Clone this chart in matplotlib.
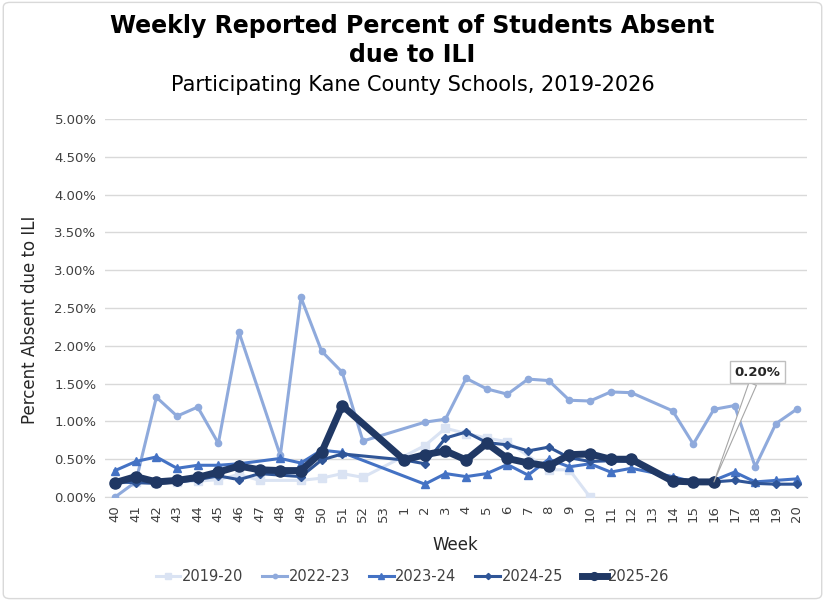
import matplotlib
matplotlib.use("Agg")
import matplotlib.pyplot as plt
import numpy as np
from matplotlib.patches import FancyBboxPatch

plt.rcParams['font.family'] = ['DejaVu Sans']

weeks = [40, 41, 42, 43, 44, 45, 46, 47, 48, 49, 50, 51, 52, 53,
         1, 2, 3, 4, 5, 6, 7, 8, 9, 10, 11, 12, 13, 14, 15, 16, 17, 18, 19, 20]
N = None
s2019_20 = [0.18, 0.20, 0.19, 0.20, 0.21, 0.23, 0.30, 0.22, N, 0.22, 0.25, 0.31, 0.26, N,
            N, 0.68, 0.91, 0.84, 0.78, 0.73, N, 0.36, 0.36, 0.00, N, N, N, N, N, N, N, N, N, N]
s2022_23 = [0.00, 0.20, 1.32, 1.07, 1.19, 0.71, 2.18, N, 0.55, 2.64, 1.93, 1.65, 0.74, N,
            N, 0.99, 1.03, 1.57, 1.43, 1.36, 1.56, 1.54, 1.28, 1.27, 1.39, 1.38, N, 1.14, 0.70, 1.16, 1.21, 0.40, 0.97, 1.16]
s2023_24 = [0.35, 0.47, 0.53, 0.38, 0.42, 0.42, 0.44, N, 0.51, 0.45, 0.62, 0.59, N, N,
            N, 0.17, 0.31, 0.27, 0.31, 0.43, 0.29, 0.50, 0.40, 0.44, 0.33, 0.38, N, 0.27, 0.20, 0.22, 0.33, 0.20, 0.22, 0.24]
s2024_25 = [0.20, 0.19, 0.18, 0.20, 0.23, 0.28, 0.23, 0.31, N, 0.27, 0.49, 0.57, N, N,
            0.49, 0.44, 0.78, 0.86, 0.72, 0.69, 0.61, 0.66, 0.52, 0.47, 0.48, 0.47, N, 0.20, 0.18, 0.20, 0.22, 0.18, 0.17, 0.17]
s2025_26 = [0.19, 0.27, 0.20, 0.22, 0.26, 0.33, 0.41, 0.36, 0.35, 0.35, 0.59, 1.21, N, N,
            0.49, 0.56, 0.61, 0.49, 0.71, 0.51, 0.45, 0.41, 0.56, 0.57, 0.50, 0.50, N, 0.21, 0.20, 0.20, N, N, N, N]
labels = ["2019-20", "2022-23", "2023-24", "2024-25", "2025-26"]
yticks = [0.0, 0.5, 1.0, 1.5, 2.0, 2.5, 3.0, 3.5, 4.0, 4.5, 5.0]

series = [s2019_20, s2022_23, s2023_24, s2024_25, s2025_26]
colors = ["#DAE3F3", "#8FAADC", "#4472C4", "#2F5597", "#203864"]
markers = ["s", "o", "^", "D", "o"]
msizes = [6, 4.5, 6, 4.5, 8]
lws = [2.2, 2.2, 2.2, 2.2, 5.0]

fig = plt.figure(figsize=(8.25, 6.01), dpi=100)
ax = fig.add_axes([0.127, 0.173, 0.851, 0.629])

x = np.arange(len(weeks))
for i, (s, lab) in enumerate(zip(series, labels)):
    xs = [xi for xi, v in zip(x, s) if v is not None]
    ys = [v for v in s if v is not None]
    ax.plot(xs, ys, color=colors[i], marker=markers[i], markersize=msizes[i],
            linewidth=lws[i], label=lab, zorder=3 + i, solid_joinstyle='round')

ax.set_xlim(-0.5, len(weeks) - 0.5)
ax.set_ylim(0, 5.0)
ax.set_yticks(yticks)
ax.set_yticklabels([f"{v:.2f}%" for v in yticks], fontsize=9.5, color="#404040")
ax.set_xticks(x)
ax.set_xticklabels([str(w) for w in weeks], rotation=90, fontsize=9.5, color="#404040")
ax.tick_params(axis='both', length=0, pad=6)
ax.grid(axis='y', color="#D9D9D9", linewidth=1)
ax.set_axisbelow(True)
for sp in ['top', 'right', 'left']:
    ax.spines[sp].set_visible(False)
ax.spines['bottom'].set_color("#D9D9D9")

ax.set_ylabel("Percent Absent due to ILI", fontsize=12, color="#262626")
ax.yaxis.set_label_coords(-0.093, 0.47)
ax.set_xlabel("Week", fontsize=12, color="#262626", labelpad=10)

# annotation for latest point
idx16 = weeks.index(16)
ax.annotate("0.20%", xy=(idx16, s2025_26[idx16]), xytext=(31.1, 1.65),
            fontsize=9.5, fontweight='bold', color="#262626", ha='center', va='center',
            bbox=dict(boxstyle="square,pad=0.35", fc="white", ec="#BFBFBF", lw=1),
            arrowprops=dict(arrowstyle="wedge,tail_width=0.6", fc="white", ec="#A6A6A6", lw=0.8,
                            shrinkA=0, shrinkB=0),
            zorder=20)

fig.text(0.5, 0.957, "Weekly Reported Percent of Students Absent", ha='center', va='center',
         fontsize=17, fontweight='bold', color="black")
fig.text(0.5, 0.908, "due to ILI", ha='center', va='center',
         fontsize=17, fontweight='bold', color="black")
fig.text(0.5, 0.858, "Participating Kane County Schools, 2019-2026", ha='center', va='center',
         fontsize=15, color="black")

leg = fig.legend(loc='center', bbox_to_anchor=(0.5, 0.04), ncol=5, frameon=False,
                 fontsize=10.5, handlelength=1.7, columnspacing=1.3, handletextpad=0.1,
                 labelcolor="#404040", markerscale=0.7)

border = FancyBboxPatch((0.004, 0.004), 0.992, 0.992, boxstyle="round,pad=0,rounding_size=0.008",
                        transform=fig.transFigure, fc='none', ec='#D9D9D9', lw=1)
fig.patches.append(border)

fig.savefig("out.png", dpi=100)
